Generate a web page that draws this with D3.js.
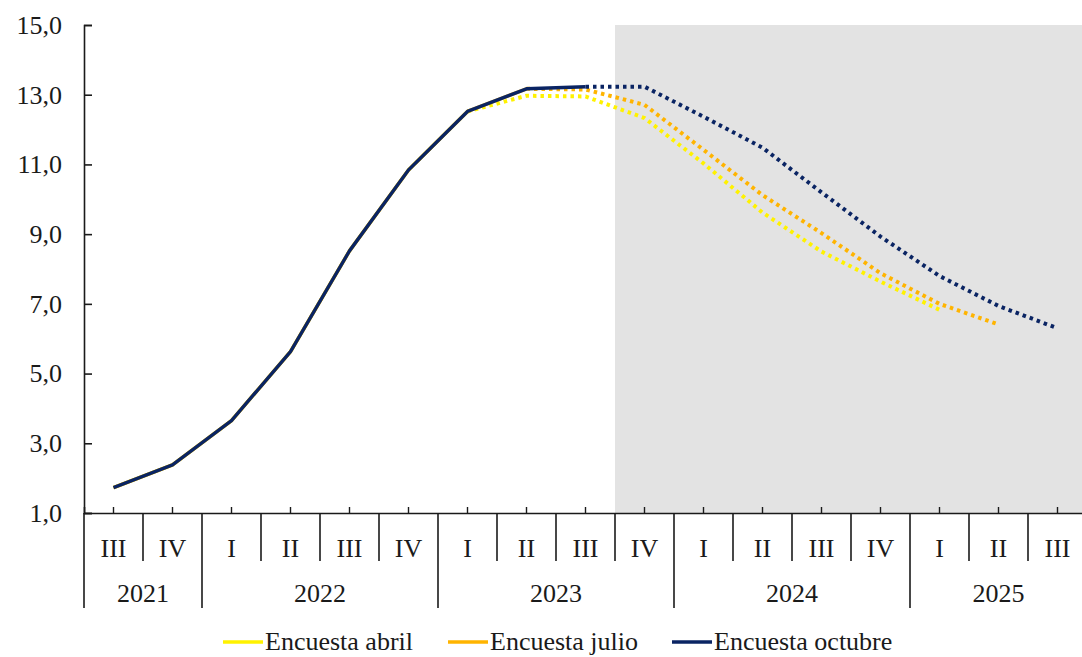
<!DOCTYPE html>
<html>
<head>
<meta charset="utf-8">
<script src="https://cdn.jsdelivr.net/npm/d3@7/dist/d3.min.js"></script>
<style>
  html, body { margin: 0; padding: 0; background: #ffffff; }
  svg { display: block; }
  text { font-family: "Liberation Serif", "Times New Roman", serif; fill: #1a1a1a; }
</style>
</head>
<body>
<svg id="chart" width="1082" height="657"></svg>
<script>
// Quarterly categories
const quarters = ["III","IV","I","II","III","IV","I","II","III","IV","I","II","III","IV","I","II","III"];
const years    = ["2021","2021","2022","2022","2022","2022","2023","2023","2023","2023","2024","2024","2024","2024","2025","2025","2025"];
const yearLabels = ["2021","2022","2023","2024","2025"];
const yTicks = [1, 3, 5, 7, 9, 11, 13, 15];

// Observed path (solid) and forecasts (dotted) for each survey; null = no value
const abrilObs    = [1.73, 2.38, 3.65, 5.63, 8.52, 10.84, 12.52, null, null, null, null, null, null, null, null, null, null];
const abrilProj   = [null, null, null, null, null, null, 12.52, 12.97, 12.95, 12.33, 11.03, 9.62, 8.50, 7.64, 6.83, null, null];
const julioObs    = [1.73, 2.38, 3.65, 5.63, 8.52, 10.84, 12.52, 13.17, null, null, null, null, null, null, null, null, null];
const julioProj   = [null, null, null, null, null, null, null, 13.17, 13.15, 12.71, 11.42, 10.12, 9.03, 7.88, 7.00, 6.41, null];
const octubreObs  = [1.73, 2.38, 3.65, 5.63, 8.52, 10.84, 12.52, 13.17, 13.23, null, null, null, null, null, null, null, null];
const octubreProj = [null, null, null, null, null, null, null, null, 13.23, 13.23, 12.37, 11.48, 10.20, 8.93, 7.80, 6.94, 6.30];

const seriesNames = ["Encuesta abril", "Encuesta julio", "Encuesta octubre"];
const seriesColors = ["#fff200", "#ffb400", "#0a2463"];

const categories = quarters.map((q, i) => years[i] + " " + q);

const plotLeft = 84, plotRight = 1087, plotTop = 25, plotBottom = 513;
const fontSize = 26;
const svg = d3.select("#chart");

const x = d3.scaleBand().domain(categories).range([plotLeft, plotRight]).paddingInner(0).paddingOuter(0);
const y = d3.scaleLinear().domain([1, 15]).range([plotBottom, plotTop]);
const cx = c => x(c) + x.bandwidth() / 2;

// Shaded forecast region (from 2023 IV onward)
svg.append("rect")
  .attr("x", x("2023 IV"))
  .attr("y", plotTop)
  .attr("width", 1082 - x("2023 IV"))
  .attr("height", plotBottom - plotTop)
  .attr("fill", "#e3e3e3");

// Y axis
const fmt = v => d3.format(".1f")(v).replace(".", ",");
const yAxis = svg.append("g")
  .attr("transform", `translate(${plotLeft},0)`)
  .call(d3.axisLeft(y).tickValues(yTicks).tickFormat(fmt).tickSize(-8).tickPadding(22));
yAxis.select(".domain").attr("stroke", "#1a1a1a").attr("stroke-width", 1.6);
yAxis.selectAll(".tick line").attr("stroke", "#1a1a1a").attr("stroke-width", 1.6);
yAxis.selectAll(".tick text").attr("font-size", fontSize).attr("font-family", "Liberation Serif, serif").attr("fill", "#1a1a1a");

// Left line continues down through the category rows
svg.append("line")
  .attr("x1", plotLeft).attr("x2", plotLeft).attr("y1", plotBottom).attr("y2", 608)
  .attr("stroke", "#1a1a1a").attr("stroke-width", 1.6);

// X axis with small ticks at category centers
const xAxis = svg.append("g")
  .attr("transform", `translate(0,${plotBottom})`)
  .call(d3.axisBottom(x).tickSize(-6).tickFormat(""));
xAxis.select(".domain").attr("stroke", "#1a1a1a").attr("stroke-width", 1.6);
xAxis.selectAll(".tick line").attr("stroke", "#1a1a1a").attr("stroke-width", 1.4);

// Separators between quarters, longer between years
categories.forEach((c, i) => {
  const edge = x(c) + x.bandwidth();
  const yearEnd = i === categories.length - 1 || years[i] !== years[i + 1];
  svg.append("line")
    .attr("x1", edge).attr("x2", edge)
    .attr("y1", plotBottom).attr("y2", yearEnd ? 608 : 561)
    .attr("stroke", "#1a1a1a").attr("stroke-width", 1.6);
});

// Quarter labels
svg.append("g").selectAll("text")
  .data(categories)
  .join("text")
  .attr("x", d => cx(d))
  .attr("y", 548)
  .attr("text-anchor", "middle")
  .attr("dominant-baseline", "central")
  .attr("font-size", fontSize)
  .text((d, i) => quarters[i]);

// Year labels centered under their quarters
svg.append("g").selectAll("text")
  .data(yearLabels)
  .join("text")
  .attr("x", yr => {
    const cs = categories.filter((c, i) => years[i] === yr);
    return (x(cs[0]) + x(cs[cs.length - 1]) + x.bandwidth()) / 2;
  })
  .attr("y", 593)
  .attr("text-anchor", "middle")
  .attr("dominant-baseline", "central")
  .attr("font-size", fontSize)
  .text(d => d);

// Lines
const line = d3.line()
  .defined(d => d.v !== null)
  .x(d => cx(d.c))
  .y(d => y(d.v));
const toPts = arr => arr.map((v, i) => ({ c: categories[i], v }));

const lineGroup = svg.append("g").attr("fill", "none");
const obsSets = [abrilObs, julioObs, octubreObs];
const projSets = [abrilProj, julioProj, octubreProj];

// Forecasts (dotted) first, observed paths on top
projSets.forEach((arr, k) => {
  lineGroup.append("path")
    .attr("d", line(toPts(arr)))
    .attr("stroke", seriesColors[k])
    .attr("stroke-width", 4)
    .attr("stroke-dasharray", "3.5 4");
});
obsSets.forEach((arr, k) => {
  lineGroup.append("path")
    .attr("d", line(toPts(arr)))
    .attr("stroke", seriesColors[k])
    .attr("stroke-width", 3.4)
    .attr("stroke-linejoin", "round");
});

// Legend
const legendX = [223, 448, 672];
const legend = svg.append("g");
seriesNames.forEach((name, k) => {
  legend.append("line")
    .attr("x1", legendX[k]).attr("x2", legendX[k] + 40)
    .attr("y1", 642).attr("y2", 642)
    .attr("stroke", seriesColors[k]).attr("stroke-width", 3.5);
  legend.append("text")
    .attr("x", legendX[k] + 42)
    .attr("y", 641)
    .attr("dominant-baseline", "central")
    .attr("font-size", fontSize)
    .text(name);
});
</script>
</body>
</html>
